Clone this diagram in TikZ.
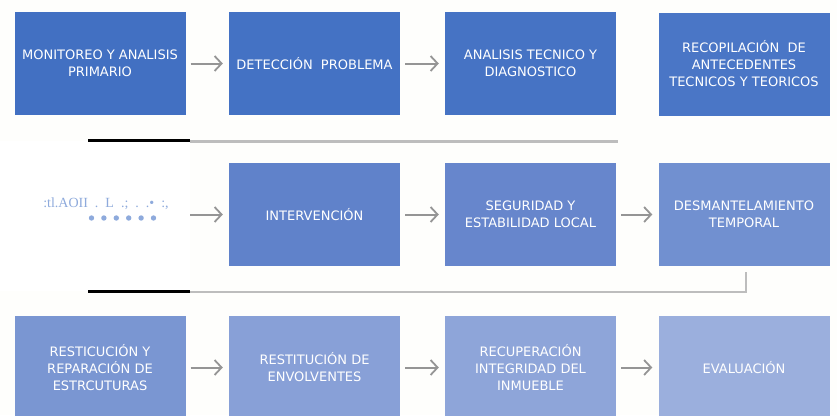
\documentclass[tikz,border=0pt]{standalone}
\usepackage{fontspec}
\setmainfont{DejaVu Sans}
\newfontfamily\serifsc{Liberation Serif}
\usetikzlibrary{arrows.meta}
\definecolor{bgoff}{HTML}{FEFEFC}
\definecolor{cA}{HTML}{4270C2}
\definecolor{cB}{HTML}{4472C4}
\definecolor{cC}{HTML}{4673C4}
\definecolor{cD}{HTML}{4A76C6}
\definecolor{cE}{HTML}{6082CA}
\definecolor{cF}{HTML}{6786CC}
\definecolor{cG}{HTML}{7190D0}
\definecolor{cH}{HTML}{7A96D2}
\definecolor{cI}{HTML}{88A0D7}
\definecolor{cJ}{HTML}{8EA5D9}
\definecolor{cK}{HTML}{9BAFDD}
\definecolor{arrowgray}{HTML}{959595}
\definecolor{linegray}{HTML}{BDBDBD}
\definecolor{faintblue}{HTML}{8EAADC}
\tikzset{
  stepbox/.style={rectangle, minimum width=171pt, minimum height=103pt, inner sep=0pt,
    text=white, align=center, font=\fontsize{13}{17}\selectfont},
  flowarrow/.style={draw=arrowgray, line width=2pt, -{Straight Barb[length=7pt,width=15pt,line width=1.8pt]}},
  blackbar/.style={draw=black, line width=3pt},
  graybar/.style={draw=linegray, line width=2.4pt}
}
\begin{document}
\begin{tikzpicture}[x=1pt,y=-1pt]
\useasboundingbox (0,0) rectangle (837,415);
\clip (0,0) rectangle (837,415);
\fill[bgoff] (0,0) rectangle (837,415);
\fill[white] (0,141) rectangle (190,291);
% row 1
\node[stepbox, fill=cA] (b11) at (100,63.5) {MONITOREO Y ANALISIS\\PRIMARIO};
\node[stepbox, fill=cB] (b12) at (314.5,63.5) {DETECCIÓN\ \ PROBLEMA};
\node[stepbox, fill=cC] (b13) at (530.5,63.5) {ANALISIS TECNICO Y\\DIAGNOSTICO};
\node[stepbox, fill=cD] (b14) at (744,64) {RECOPILACIÓN\ \ DE\\ANTECEDENTES\\TECNICOS Y TEORICOS};
% row 2
\node[stepbox, fill=cE] (b22) at (314.5,214.5) {INTERVENCIÓN};
\node[stepbox, fill=cF] (b23) at (530.5,214.5) {SEGURIDAD Y\\ESTABILIDAD LOCAL};
\node[stepbox, fill=cG] (b24) at (744,214.5) {DESMANTELAMIENTO\\TEMPORAL};
% row 3
\node[stepbox, fill=cH] (b31) at (100,367.5) {RESTICUCIÓN Y\\REPARACIÓN DE\\ESTRCUTURAS};
\node[stepbox, fill=cI] (b32) at (314.5,367.5) {RESTITUCIÓN DE\\ENVOLVENTES};
\node[stepbox, fill=cJ] (b33) at (530.5,367.5) {RECUPERACIÓN\\INTEGRIDAD DEL\\INMUEBLE};
\node[stepbox, fill=cK] (b34) at (744,367.5) {EVALUACIÓN};
% left faint text
\node[text=faintblue, font=\serifsc\fontsize{14}{15}\selectfont, inner sep=0pt] (lt) at (106,204) {:tl.AOII\ \ .\ \ L\ \ .;\ \ .\ \ .•\ \ :,};
\foreach \i in {0,...,5} \fill[faintblue] (91.5+12.4*\i,218) circle (2.7);
% arrows
\draw[flowarrow, shorten <=5pt, shorten >=6pt] (b11.east) -- (b12.west);
\draw[flowarrow, shorten <=5pt, shorten >=6pt] (b12.east) -- (b13.west);
\coordinate (s2) at (190,214.5);
\draw[flowarrow, shorten >=6pt] (s2) -- (b22.west);
\draw[flowarrow, shorten <=5pt, shorten >=6pt] (b22.east) -- (b23.west);
\draw[flowarrow, shorten <=5pt, shorten >=6pt] (b23.east) -- (b24.west);
\draw[flowarrow, shorten <=5pt, shorten >=6pt] (b31.east) -- (b32.west);
\draw[flowarrow, shorten <=5pt, shorten >=6pt] (b32.east) -- (b33.west);
\draw[flowarrow, shorten <=5pt, shorten >=6pt] (b33.east) -- (b34.west);
% separator lines
\coordinate (k1a) at (88,140.5);
\coordinate (k1b) at (190,140.5);
\coordinate (g1b) at (618,141.5);
\draw[blackbar] (k1a) -- (k1b);
\draw[graybar] (k1b |- g1b) -- (g1b);
\coordinate (k2a) at (88,291);
\coordinate (k2b) at (190,291);
\coordinate (g2b) at (746,292);
\coordinate (g2c) at (746,272);
\draw[graybar] (k2b |- g2b) -- (g2b) -- (g2c);
\draw[blackbar] (k2a) -- (k2b);
\end{tikzpicture}
\end{document}
